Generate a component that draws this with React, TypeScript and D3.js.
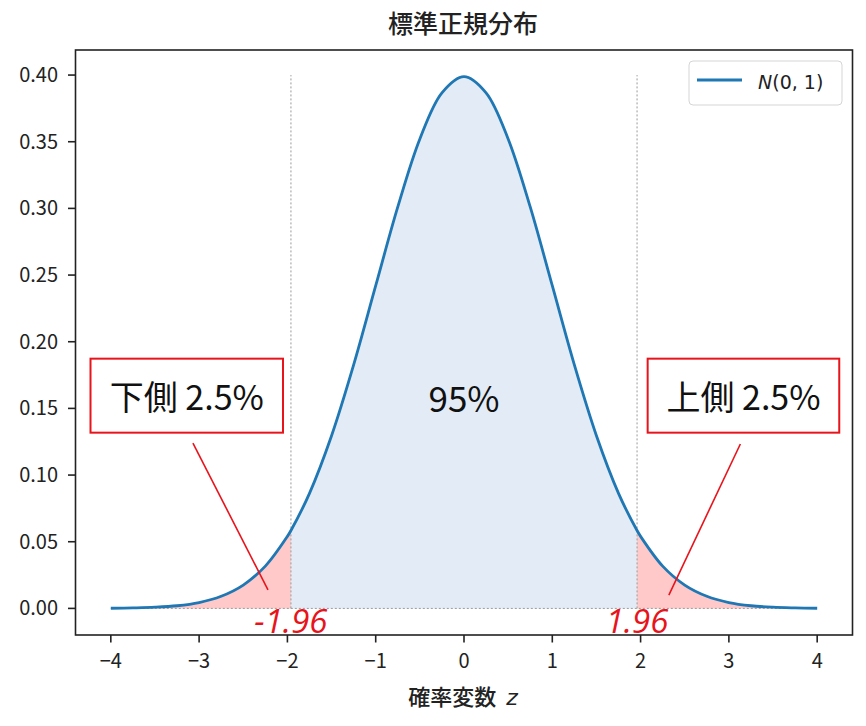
import React from 'react';
import * as d3 from 'd3';

// z grid and density values
const zValues = [
  -4, -3.75, -3.5, -3.25, -3, -2.75, -2.5, -2.25, -2, -1.96, -1.75, -1.5, -1.25, -1, -0.75, -0.5, -0.25,
  0, 0.25, 0.5, 0.75, 1, 1.25, 1.5, 1.75, 1.96, 2, 2.25, 2.5, 2.75, 3, 3.25, 3.5, 3.75, 4,
];
const density = [
  0.0001, 0.0004, 0.0009, 0.002, 0.0044, 0.0091, 0.0175, 0.0317, 0.054, 0.0584, 0.0863, 0.1295, 0.1826, 0.242, 0.3011, 0.3521, 0.3867,
  0.3989, 0.3867, 0.3521, 0.3011, 0.242, 0.1826, 0.1295, 0.0863, 0.0584, 0.054, 0.0317, 0.0175, 0.0091, 0.0044, 0.002, 0.0009, 0.0004, 0.0001,
];
const criticalZ = [-1.96, 1.96];
const criticalLabels = ['-1.96', '1.96'];
const xTicks = [-4, -3, -2, -1, 0, 1, 2, 3, 4];
const yTicks = [0, 0.05, 0.1, 0.15, 0.2, 0.25, 0.3, 0.35, 0.4];

// callout boxes (data coords) and their pointer lines
const boxLabels = ['下側 2.5%', '上側 2.5%'];
const boxX = [[-4.23, -2.05], [2.08, 4.25]];
const boxY = [0.1318, 0.1873];
const pointerFrom = [[-3.07, 0.124], [3.13, 0.1233]];
const pointerTo = [[-2.22, 0.0139], [2.32, 0.01]];

const W = 866;
const H = 726;
const JP = '"Noto Sans CJK JP", sans-serif';

export default function App() {
  const x = d3.scaleLinear().domain([-4.4, 4.4]).range([75.5, 852.5]);
  const y = d3.scaleLinear().domain([-0.01995, 0.4188]).range([635, 50]);

  const pts = zValues.map((z, i) => ({ z, p: density[i] }));
  const curve = d3.curveCatmullRom.alpha(0.5);
  const line = d3.line<{ z: number; p: number }>().x(d => x(d.z)).y(d => y(d.p)).curve(curve);
  const area = d3.area<{ z: number; p: number }>().x(d => x(d.z)).y0(y(0)).y1(d => y(d.p)).curve(curve);

  const lower = pts.filter(d => d.z <= criticalZ[0]);
  const middle = pts.filter(d => d.z >= criticalZ[0] && d.z <= criticalZ[1]);
  const upper = pts.filter(d => d.z >= criticalZ[1]);

  const red = '#e8141b';

  return (
    <svg width={W} height={H} style={{ position: 'absolute', left: 0, top: 0, background: '#fff' }}>
      <rect width={W} height={H} fill="#fff" />

      {/* fills */}
      <path d={area(middle) || ''} fill="#e3ecf6" />
      <path d={area(lower) || ''} fill="#ffc9c9" />
      <path d={area(upper) || ''} fill="#ffc9c9" />

      {/* reference lines */}
      <line x1={x(-4)} x2={x(4)} y1={y(0)} y2={y(0)} stroke="#9a9a9a" strokeWidth={1} strokeDasharray="2,2" />
      {criticalZ.map(z => (
        <line key={z} x1={x(z)} x2={x(z)} y1={y(0)} y2={y(0.4)} stroke="#9a9a9a" strokeWidth={1} strokeDasharray="2,2" />
      ))}

      <path d={line(pts) || ''} fill="none" stroke="#1f77b4" strokeWidth={2.8} />

      {/* spines */}
      <rect x={75.5} y={50} width={777} height={585} fill="none" stroke="#222" strokeWidth={1.6} />

      {/* y axis */}
      {yTicks.map(t => (
        <g key={t}>
          <line x1={68} x2={75.5} y1={y(t)} y2={y(t)} stroke="#222" strokeWidth={1.6} />
          <text x={58} y={y(t) + 7} textAnchor="end" fontFamily={JP} fontSize={20} fill="#222">
            {t.toFixed(2)}
          </text>
        </g>
      ))}

      {/* x axis */}
      {xTicks.map(t => (
        <g key={t}>
          <line x1={x(t)} x2={x(t)} y1={635} y2={642.5} stroke="#222" strokeWidth={1.6} />
          <text x={x(t)} y={668} textAnchor="middle" fontFamily={JP} fontSize={20} fill="#222">
            {t < 0 ? '\u2212' + Math.abs(t) : String(t)}
          </text>
        </g>
      ))}

      <text x={463} y={33} textAnchor="middle" fontFamily={JP} fontSize={25} fontWeight={500} fill="#222">標準正規分布</text>
      <text x={463} y={705} textAnchor="middle" fontFamily={JP} fontSize={22} fontWeight={500} fill="#222">
        確率変数<tspan dx={10} fontFamily='"DejaVu Sans", sans-serif' fontStyle="italic">z</tspan>
      </text>

      {/* legend */}
      <rect x={689} y={61} width={153} height={44} rx={4} fill="#fff" fillOpacity={0.8} stroke="#d5d5d5" />
      <line x1={697} x2={742} y1={80} y2={80} stroke="#1f77b4" strokeWidth={3} />
      <text x={758} y={89} fontFamily='"DejaVu Sans", sans-serif' fontSize={19} fill="#222">
        <tspan fontStyle="italic">N</tspan>(0, 1)
      </text>

      {/* 95% */}
      <text x={x(0)} y={y(0.147)} textAnchor="middle" fontFamily={JP} fontSize={35} fill="#111">95%</text>

      {/* callouts */}
      {boxLabels.map((label, i) => {
        const bx0 = x(boxX[i][0]);
        const bx1 = x(boxX[i][1]);
        const by0 = y(boxY[1]);
        const by1 = y(boxY[0]);
        return (
          <g key={label}>
            <rect x={bx0} y={by0} width={bx1 - bx0} height={by1 - by0} fill="#fff" stroke={red} strokeWidth={2} />
            <text x={(bx0 + bx1) / 2} y={(by0 + by1) / 2 + 14} textAnchor="middle" fontFamily={JP} fontSize={34} fill="#111">
              {label}
            </text>
            <line
              x1={x(pointerFrom[i][0])} y1={y(pointerFrom[i][1])}
              x2={x(pointerTo[i][0])} y2={y(pointerTo[i][1])}
              stroke={red} strokeWidth={1.6}
            />
          </g>
        );
      })}

      {criticalZ.map((z, i) => (
        <text key={z} x={x(z)} y={633} textAnchor="middle" fontFamily='"Open Sans", sans-serif' fontStyle="italic" fontWeight={500} fontSize={33} fill={red}>
          {criticalLabels[i]}
        </text>
      ))}
    </svg>
  );
}
